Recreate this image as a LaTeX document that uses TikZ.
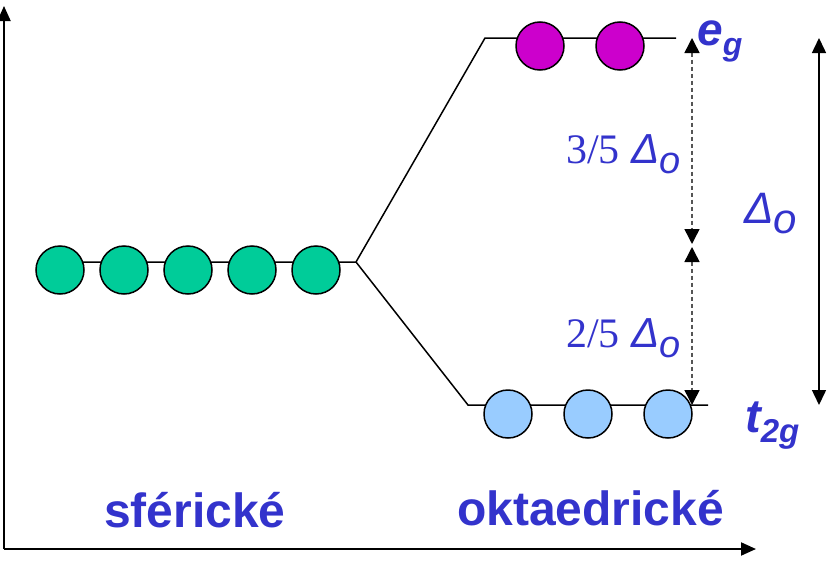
\documentclass[tikz,border=0pt]{standalone}
\usepackage{fontspec}
\setmainfont{Liberation Sans}
\newfontfamily\serfont{Liberation Serif}
\usetikzlibrary{arrows.meta}
\definecolor{txtblue}{HTML}{3333CC}
\definecolor{orbgreen}{HTML}{00CC99}
\definecolor{orbmag}{HTML}{CC00CC}
\definecolor{orbblue}{HTML}{99CCFF}
\definecolor{dashgray}{HTML}{555555}
\tikzset{
  orb/.style={circle, draw=black, line width=1.5pt, minimum size=48pt, inner sep=0pt},
  lvl/.style={line width=1.5pt, draw=black},
  axis/.style={line width=2pt, -{Triangle[length=15pt,width=13pt]}},
  dasharr/.style={draw=dashgray, line width=1.5pt, dash pattern=on 4pt off 3pt, {Triangle[length=15pt,width=15pt,color=black]}-{Triangle[length=15pt,width=15pt,color=black]}},
  solarr/.style={line width=1.5pt, {Triangle[length=15pt,width=14pt]}-{Triangle[length=15pt,width=14pt]}},
  lbl/.style={anchor=base west, inner sep=0pt, text=txtblue}
}
\begin{document}
\begin{tikzpicture}[x=1pt,y=-1pt]
\useasboundingbox (0,0) rectangle (827,562);
% axes
\coordinate (O) at (4,549);
\coordinate (Ytop) at (4,6);
\coordinate (Xend) at (756,549);
\draw[axis] (O) -- (Ytop);
\draw[axis] (O) -- (Xend);
% levels
\coordinate (S0) at (60,262);
\coordinate (S1) at (356,262);
\coordinate (E0) at (485,38);
\coordinate (E1) at (676,38);
\coordinate (T0) at (468,405);
\coordinate (T1) at (708,405);
\draw[lvl] (S0) -- (S1) -- (E0) -- (E1);
\draw[lvl] (S1) -- (T0) -- (T1);
% orbitals
\foreach \i/\x in {1/60,2/124,3/188,4/252,5/316}
  \node[orb, fill=orbgreen] (g\i) at (\x,270) {};
\node[orb, fill=orbmag] (m1) at (540,46) {};
\node[orb, fill=orbmag] (m2) at (620,46) {};
\node[orb, fill=orbblue] (b1) at (508,414) {};
\node[orb, fill=orbblue] (b2) at (588,414) {};
\node[orb, fill=orbblue] (b3) at (668,414) {};
% arrows
\coordinate (DA) at (692,38);
\coordinate (DB) at (692,244);
\coordinate (DC) at (692,247);
\coordinate (DD) at (692,405);
\draw[dasharr] (DA) -- (DB);
\draw[dasharr] (DC) -- (DD);
\coordinate (SA) at (819,38);
\coordinate (SB) at (819,405);
\draw[solarr] (SA) -- (SB);
% labels
\node[lbl] (sfer) at (104,527) {\fontsize{48}{50}\selectfont\bfseries sférické};
\node[lbl] (okt) at (457,525) {\fontsize{48}{50}\selectfont\bfseries oktaedrické};
\node[lbl] (eg) at (697,45) {\fontsize{46}{46}\selectfont\bfseries\itshape e\raisebox{-10pt}{\fontsize{32}{32}\selectfont g}};
\node[lbl] (t2g) at (745,432) {\fontsize{47}{47}\selectfont\bfseries\itshape t\raisebox{-10pt}{\fontsize{33}{33}\selectfont 2g}};
\node[lbl] (Do) at (744,223) {\fontsize{44}{44}\selectfont\itshape Δ\raisebox{-10pt}{\fontsize{42}{42}\selectfont o}};
\node[lbl] (tf) at (566,163) {\fontsize{42}{42}\selectfont{\serfont 3/5} \itshape Δ\raisebox{-10pt}{\fontsize{38}{38}\selectfont o}};
\node[lbl] (df) at (566,347) {\fontsize{42}{42}\selectfont{\serfont 2/5} \itshape Δ\raisebox{-10pt}{\fontsize{38}{38}\selectfont o}};
\end{tikzpicture}
\end{document}
